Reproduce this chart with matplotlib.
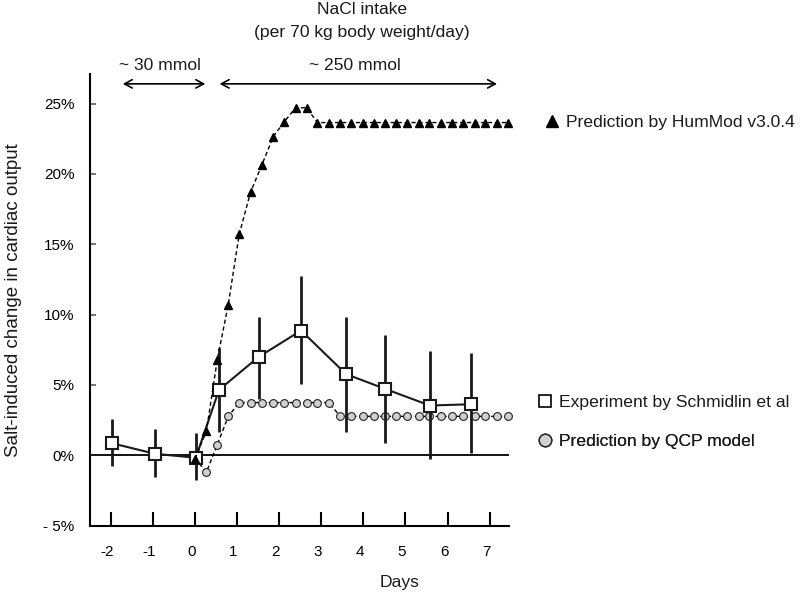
import matplotlib
matplotlib.use('Agg')
import matplotlib.pyplot as plt
import matplotlib.transforms as mtransforms
from matplotlib.lines import Line2D

plt.rcParams['font.family'] = ['Liberation Sans', 'DejaVu Sans']
plt.rcParams['text.color'] = '#1a1a1a'

# experiment (Schmidlin et al): day, mean and the ends of the bars, in %
exp_days = [-1.96, -0.95, 0.02, 0.57, 1.51, 2.52, 3.59, 4.52, 5.58, 6.55]
exp_mean = [0.85, 0.11, -0.17, 4.65, 6.99, 8.87, 5.77, 4.72, 3.54, 3.63]
exp_low = [-0.75, -1.53, -1.76, 1.66, 3.97, 5.04, 1.66, 0.89, -0.28, 0.14]
exp_high = [2.60, 1.87, 1.59, 7.60, 9.86, 12.75, 9.86, 8.56, 7.39, 7.30]

# model time points (days)
model_days = [0.00, 0.27, 0.53, 0.79, 1.05, 1.32, 1.59, 1.86, 2.12, 2.39,
              2.65, 2.91, 3.18, 3.45, 3.71, 3.98, 4.25, 4.51, 4.78, 5.04,
              5.31, 5.57, 5.84, 6.10, 6.37, 6.64, 6.90, 7.17, 7.44]

hummod = [-0.25, 1.70, 6.80, 10.70, 15.70, 18.70, 20.65, 22.65, 23.70, 24.70,
          24.70, 23.65, 23.65, 23.65, 23.65, 23.65, 23.65, 23.65, 23.65, 23.65,
          23.65, 23.65, 23.65, 23.65, 23.65, 23.65, 23.65, 23.65, 23.65]

qcp = [-0.20, -1.20, 0.77, 2.77, 3.75, 3.75, 3.75, 3.75, 3.75, 3.75,
       3.75, 3.75, 3.75, 2.77, 2.77, 2.77, 2.77, 2.77, 2.77, 2.77,
       2.77, 2.77, 2.77, 2.77, 2.77, 2.77, 2.77, 2.77, 2.77]

day_ticks = [-2, -1, 0, 1, 2, 3, 4, 5, 6, 7]
pct_ticks = [-5, 0, 5, 10, 15, 20, 25]
pct_labels = ['- 5%', '0%', '5%', '10%', '15%', '20%', '25%']

fs = 12.6
W, H = 800, 593
fig = plt.figure(figsize=(W / 100, H / 100), dpi=100)
ax = fig.add_axes([90 / W, 1 - 525.7 / H, (508.6 - 90) / W, (525.7 - 74) / H])

ax.set_xlim(-2.494, 7.45)
ax.set_ylim(-5, 27.1)

ax.axhline(0, color='black', lw=1.3, zorder=1)

# QCP model
ax.plot(model_days, qcp, ls=(0, (3, 2)), lw=1, color='black', marker='o',
        ms=5.6, mfc='#d0d0d0', mec='#222222', mew=0.8, zorder=2, clip_on=False)

# experiment
yerr = [[m - lo for m, lo in zip(exp_mean, exp_low)],
        [hi - m for m, hi in zip(exp_mean, exp_high)]]
ax.errorbar(exp_days, exp_mean, yerr=yerr, fmt='none', ecolor='#1a1a1a',
            elinewidth=2.0, capsize=0, zorder=3)
ax.plot(exp_days, exp_mean, '-', color='#1a1a1a', lw=1.5, marker='s', ms=8.3,
        mfc='white', mec='#1a1a1a', mew=1.5, zorder=4)

# HumMod
ax.plot(model_days, hummod, ls=(0, (3, 2)), lw=1, color='black', marker='^',
        ms=5.5, mfc='black', mec='black', zorder=5, clip_on=False)

for s in ['top', 'right']:
    ax.spines[s].set_visible(False)
for s in ['left', 'bottom']:
    ax.spines[s].set_linewidth(1.5)

ax.set_xticks(day_ticks)
ax.set_xticklabels([str(d) for d in day_ticks])
ax.tick_params(axis='x', direction='in', length=10, width=1.5, pad=14,
               labelsize=11)
shift = mtransforms.ScaledTranslation(-3.5 / 100, 0, fig.dpi_scale_trans)
for lbl in ax.get_xticklabels():
    lbl.set_transform(lbl.get_transform() + shift)

ax.set_yticks(pct_ticks)
ax.set_yticklabels(pct_labels)
ax.tick_params(axis='y', direction='in', length=4.5, width=1.2, color='#4a6082',
               pad=11, labelsize=11)
for t in ax.yaxis.get_major_ticks()[:2]:
    t.tick1line.set_visible(False)

fig.text(400 / W, 1 - 582 / H, 'Days', ha='center', va='center', fontsize=fs)
fig.text(14 / W, 1 - 300 / H, 'Salt-induced change in cardiac output',
         rotation=90, ha='center', va='center', fontsize=13.5)

# NaCl intake header and arrows
fig.text(362 / W, 1 - 9 / H, 'NaCl intake', ha='center', va='center', fontsize=fs)
fig.text(362 / W, 1 - 32 / H, '(per 70 kg body weight/day)', ha='center',
         va='center', fontsize=fs)
fig.text(160 / W, 1 - 65 / H, '~ 30 mmol', ha='center', va='center', fontsize=fs)
fig.text(355 / W, 1 - 65 / H, '~ 250 mmol', ha='center', va='center', fontsize=fs)

arrow = dict(arrowstyle='<->,head_length=0.55,head_width=0.3', color='black', lw=1.2)
ax.annotate('', xy=(-1.78, 26.4), xytext=(0.31, 26.4), arrowprops=arrow,
            annotation_clip=False)
ax.annotate('', xy=(0.52, 26.4), xytext=(7.24, 26.4), arrowprops=arrow,
            annotation_clip=False)

# legend entries placed beside the curves
entries = [
    (Line2D([], [], ls='none', marker='^', ms=8, color='black'),
     'Prediction by HumMod v3.0.4', 551.7, 122.7),
    (Line2D([], [], ls='none', marker='s', ms=8, mfc='white', mec='black', mew=1.2),
     'Experiment by Schmidlin et al', 545, 402.7),
    (Line2D([], [], ls='none', marker='o', ms=9, mfc='#d0d0d0', mec='#222222', mew=1),
     'Prediction by QCP model', 545, 441.7),
]
for h, lab, px, py in entries:
    leg = ax.legend(handles=[h], labels=[lab], loc='center left',
                    bbox_to_anchor=((px - 8.8) / W, 1 - py / H),
                    bbox_transform=fig.transFigure, frameon=False, fontsize=fs,
                    handlelength=1.0, handletextpad=0.3, borderpad=0,
                    borderaxespad=0)
    ax.add_artist(leg)

fig.savefig('out.png', dpi=100)
